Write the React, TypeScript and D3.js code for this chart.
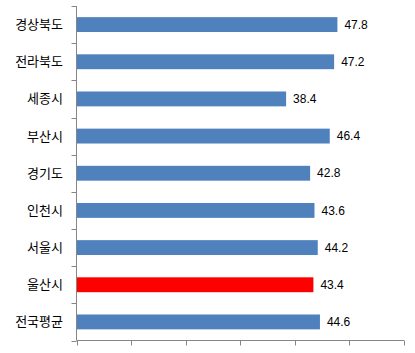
import React, { useEffect, useRef } from 'react';
import * as d3 from 'd3';

const categories = ['경상북도', '전라북도', '세종시', '부산시', '경기도', '인천시', '서울시', '울산시', '전국평균'];
const values = [47.8, 47.2, 38.4, 46.4, 42.8, 43.6, 44.2, 43.4, 44.6];
const highlight = '울산시';
const xTicks = [0, 10, 20, 30, 40, 50, 60];

const App: React.FC = () => {
  const svgRef = useRef<SVGSVGElement>(null);

  useEffect(() => {
    if (!svgRef.current) return;
    const svg = d3.select(svgRef.current);
    svg.selectAll('*').remove();

    const left = 76.5;
    const right = 404;
    const top = 6;
    const bottom = 340.5;
    const axisColor = '#868686';

    const x = d3.scaleLinear().domain([0, 60]).range([left, right]);
    const y = d3.scaleBand<string>()
      .domain(categories)
      .range([top, bottom])
      .paddingInner(0.6)
      .paddingOuter(0.3);
    const step = y.step();

    // Bars
    svg.append('g')
      .selectAll('rect')
      .data(categories)
      .join('rect')
      .attr('x', left + 0.5)
      .attr('y', d => y(d)!)
      .attr('width', (d, i) => x(values[i]) - left - 0.5)
      .attr('height', y.bandwidth())
      .attr('fill', d => (d === highlight ? '#FF0000' : '#4F81BD'));

    // Value labels
    svg.append('g')
      .selectAll('text')
      .data(categories)
      .join('text')
      .attr('x', (d, i) => x(values[i]) + 7)
      .attr('y', d => y(d)! + y.bandwidth() / 2)
      .attr('dy', '0.35em')
      .attr('font-family', '"Liberation Sans", Arial, sans-serif')
      .attr('font-size', 12)
      .attr('fill', '#000')
      .text((d, i) => values[i].toFixed(1));

    // Category labels
    svg.append('g')
      .selectAll('text')
      .data(categories)
      .join('text')
      .attr('x', 63)
      .attr('y', d => y(d)! + y.bandwidth() / 2)
      .attr('dy', '0.35em')
      .attr('text-anchor', 'end')
      .attr('font-family', '"Noto Sans CJK KR", sans-serif')
      .attr('font-size', 13)
      .attr('fill', '#000')
      .text(d => d);

    // Axes
    const axes = svg.append('g').attr('stroke', axisColor).attr('stroke-width', 1);
    axes.append('line').attr('x1', left).attr('x2', left).attr('y1', top).attr('y2', bottom);
    axes.append('line').attr('x1', left).attr('x2', right).attr('y1', bottom).attr('y2', bottom);

    // left ticks at band boundaries
    axes.selectAll('line.yt')
      .data(d3.range(categories.length + 1))
      .join('line')
      .attr('class', 'yt')
      .attr('x1', left - 5)
      .attr('x2', left)
      .attr('y1', i => Math.round(top + i * step) + 0.5)
      .attr('y2', i => Math.round(top + i * step) + 0.5);

    // bottom ticks
    axes.selectAll('line.xt')
      .data(xTicks)
      .join('line')
      .attr('class', 'xt')
      .attr('x1', d => Math.round(x(d)) + 0.5)
      .attr('x2', d => Math.round(x(d)) + 0.5)
      .attr('y1', bottom)
      .attr('y2', bottom + 5);
  }, []);

  return (
    <svg
      ref={svgRef}
      width={415}
      height={353}
      style={{ position: 'absolute', left: 0, top: 0, background: '#fff' }}
    />
  );
};

export default App;
